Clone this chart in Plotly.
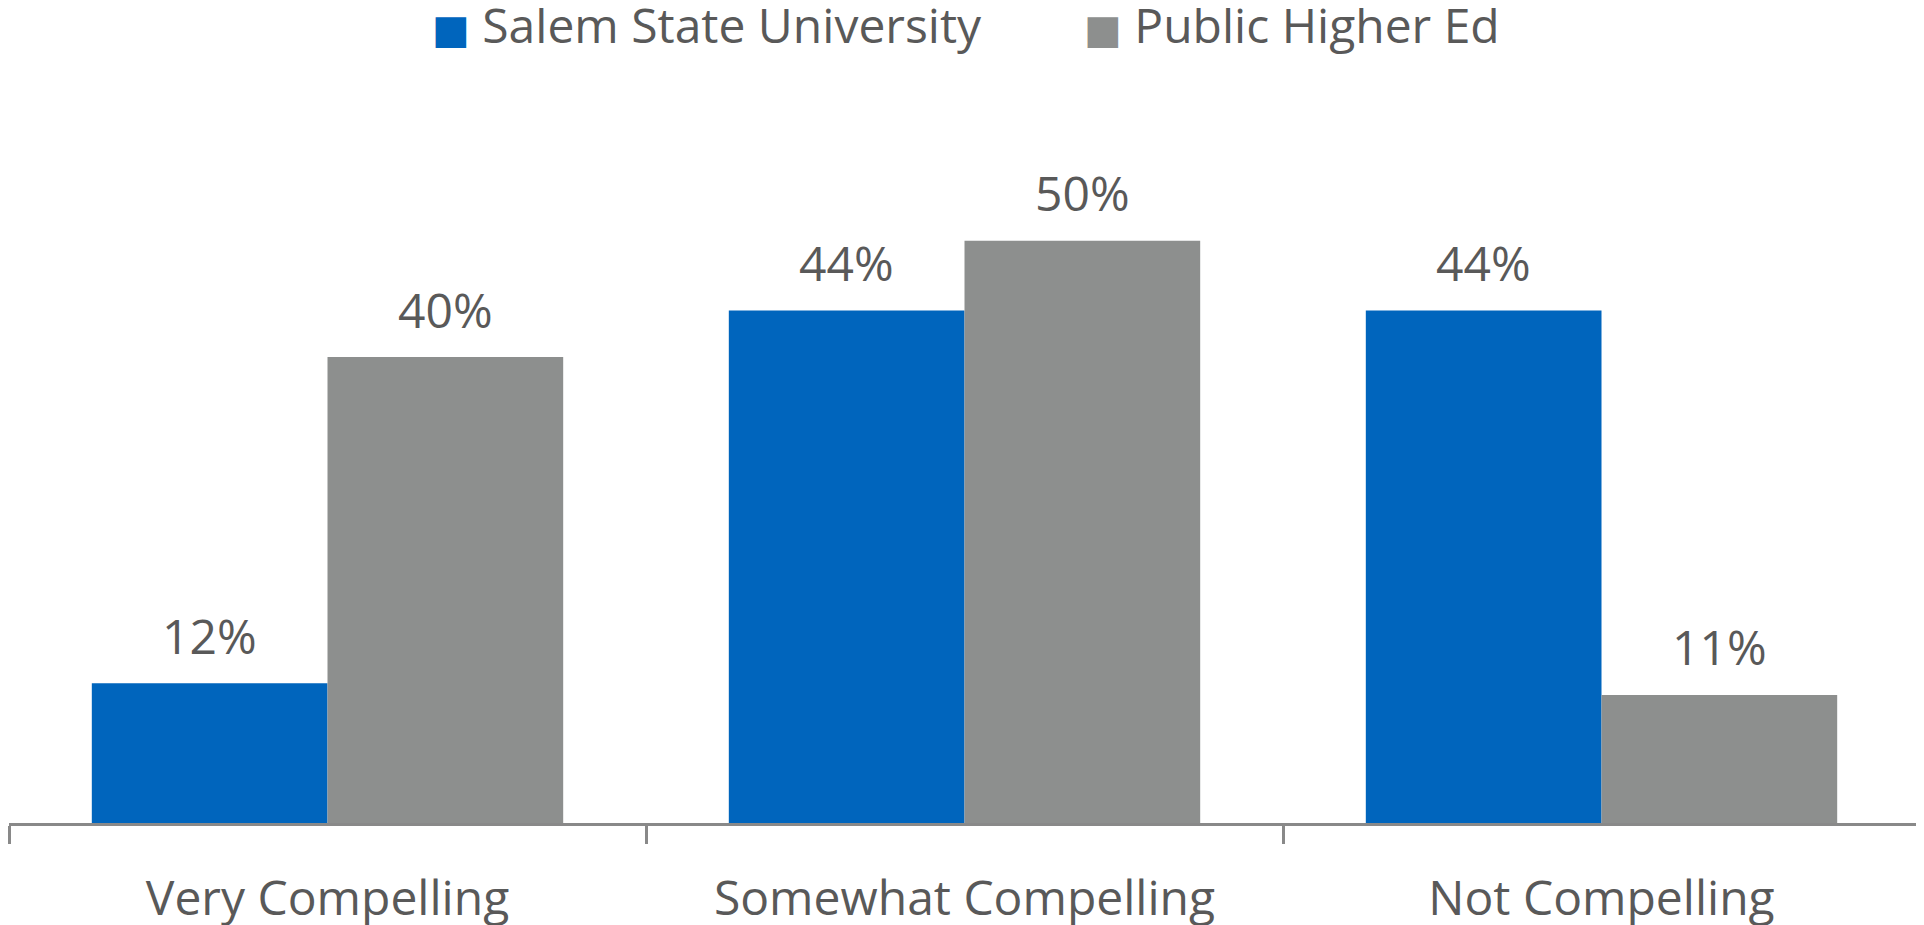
import plotly.graph_objects as go

# -------------------------
# DATA
# -------------------------
categories = ["Very Compelling", "Somewhat Compelling", "Not Compelling"]
salem_state = [12, 44, 44]
public_higher_ed = [40, 50, 11]
series_names = ["Salem State University", "Public Higher Ed"]

BLUE = "#0065BD"
GRAY = "#8D8F8E"
TEXT = "#595959"
AXIS = "#898989"
FONT = "Open Sans"
BARGAP = 0.26

fig = go.Figure()

fig.add_trace(go.Bar(
    x=categories, y=salem_state, name=series_names[0],
    marker=dict(color=BLUE, line=dict(width=0)),
    showlegend=False,
))
fig.add_trace(go.Bar(
    x=categories, y=public_higher_ed, name=series_names[1],
    marker=dict(color=GRAY, line=dict(width=0)),
    showlegend=False,
))

# value labels above each bar (offset = half a bar width in category units)
half_bar = (1 - BARGAP) / 4
annotations = []
for i, (a, b) in enumerate(zip(salem_state, public_higher_ed)):
    for x, v in ((i - half_bar, a), (i + half_bar, b)):
        annotations.append(dict(
            x=x, y=v, xref="x", yref="y", text=f"{v}%",
            showarrow=False, yanchor="middle", yshift=48,
            font=dict(family=FONT, size=48, color=TEXT),
        ))

# legend drawn as text so the swatches can be large
legend_items = [(series_names[0], BLUE, "right", -51), (series_names[1], GRAY, "left", 47)]
for name, color, anchor, shift in legend_items:
    annotations.append(dict(
        x=0.537, y=1, xref="paper", yref="paper", yanchor="middle",
        xanchor=anchor, xshift=shift, yshift=106, showarrow=False,
        text=f"<span style='color:{color};font-family:DejaVu Sans;font-size:40px'>■</span> {name}",
        font=dict(family=FONT, size=48, color=TEXT),
    ))

# page body has an 8px margin, so the figure is sized to fit the window
fig.update_layout(
    width=1916,
    height=917,
    barmode="group",
    bargap=BARGAP,
    bargroupgap=0,
    plot_bgcolor="white",
    paper_bgcolor="white",
    margin=dict(l=1, r=4, t=122, b=102),
    font=dict(family=FONT, size=48, color=TEXT),
    annotations=annotations,
    xaxis=dict(
        showline=True, linecolor=AXIS, linewidth=3,
        ticks="outside", tickson="boundaries", ticklen=18,
        tickwidth=3, tickcolor=AXIS, showgrid=False,
        tickfont=dict(family=FONT, size=48, color=TEXT),
        ticklabelstandoff=31, automargin=False,
    ),
    yaxis=dict(
        range=[0, 59.5], visible=False, showgrid=False, zeroline=False,
        automargin=False,
    ),
)

fig.write_html("out.html")
